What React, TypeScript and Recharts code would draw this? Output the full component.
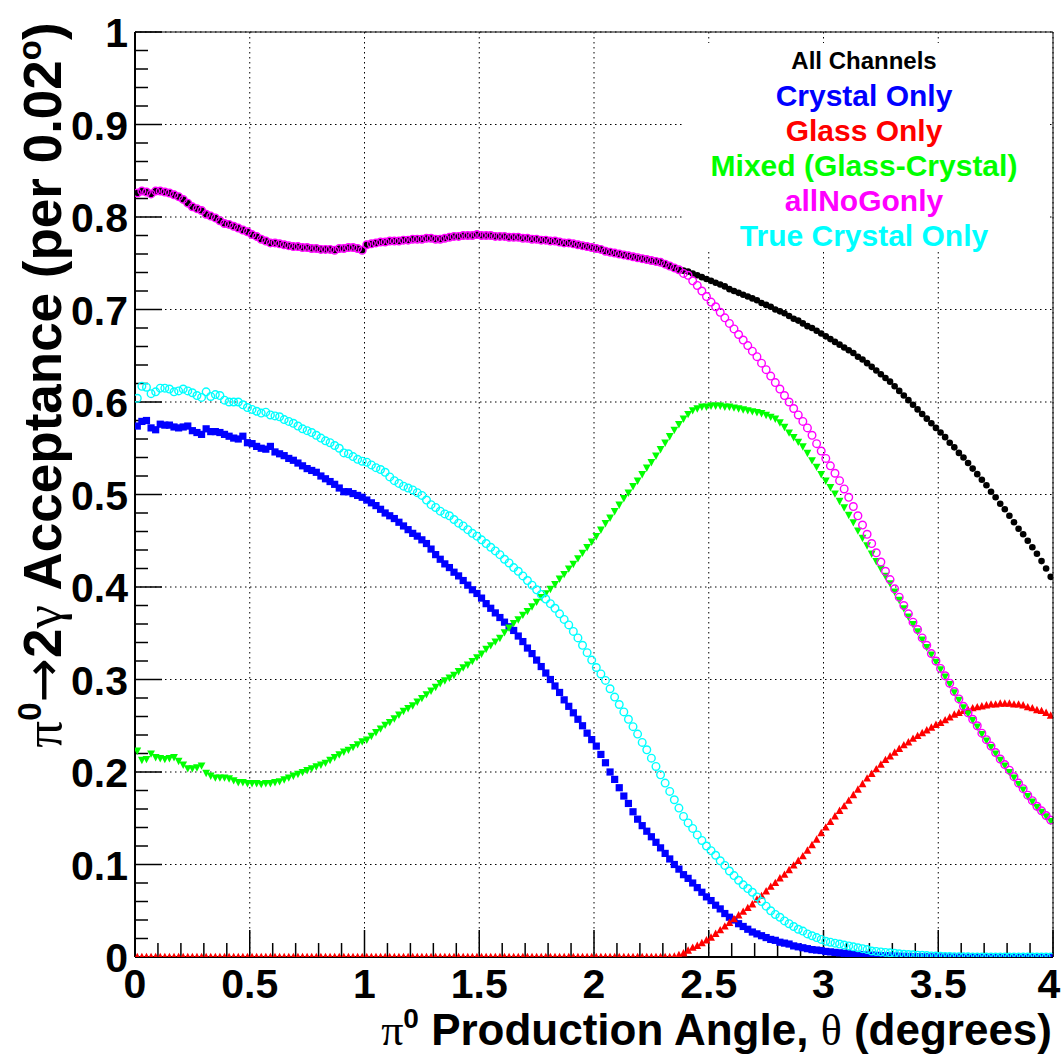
import React from 'react';
import { ScatterChart, Scatter, XAxis, YAxis, CartesianGrid, ReferenceLine } from 'recharts';

// Histogram bins: 200 bins of 0.02 degrees between 0 and 4 (bin centers)
const binCenters: number[] = Array.from({ length: 200 }, (_, i) => Math.round((0.01 + 0.02 * i) * 100) / 100);

const xTickLabels = [0, 0.5, 1, 1.5, 2, 2.5, 3, 3.5, 4];
const yTickLabels = [0, 0.1, 0.2, 0.3, 0.4, 0.5, 0.6, 0.7, 0.8, 0.9, 1];
const xMinorTicks: number[] = Array.from({ length: 41 }, (_, i) => Math.round(i * 0.1 * 10) / 10).filter((v) => !xTickLabels.includes(v));
const yMinorTicks: number[] = Array.from({ length: 51 }, (_, i) => Math.round(i * 0.02 * 100) / 100).filter((v) => !yTickLabels.includes(v));

const allChannels = [
  0.826, 0.828, 0.827, 0.825, 0.828, 0.828, 0.827, 0.826, 0.824, 0.822,
  0.819, 0.815, 0.811, 0.809, 0.807, 0.803, 0.801, 0.799, 0.796, 0.793,
  0.792, 0.790, 0.788, 0.786, 0.784, 0.781, 0.779, 0.776, 0.774, 0.772,
  0.772, 0.771, 0.770, 0.769, 0.768, 0.768, 0.767, 0.767, 0.766, 0.766,
  0.765, 0.765, 0.765, 0.764, 0.766, 0.766, 0.767, 0.767, 0.766, 0.764,
  0.770, 0.771, 0.772, 0.773, 0.773, 0.774, 0.774, 0.774, 0.775, 0.775,
  0.776, 0.776, 0.776, 0.777, 0.777, 0.776, 0.776, 0.777, 0.778, 0.779,
  0.779, 0.780, 0.780, 0.780, 0.781, 0.780, 0.780, 0.780, 0.779, 0.779,
  0.779, 0.778, 0.778, 0.778, 0.777, 0.777, 0.776, 0.776, 0.775, 0.775,
  0.774, 0.774, 0.773, 0.772, 0.772, 0.771, 0.770, 0.769, 0.768, 0.767,
  0.766, 0.765, 0.763, 0.762, 0.761, 0.760, 0.759, 0.758, 0.757, 0.756,
  0.755, 0.754, 0.753, 0.752, 0.751, 0.749, 0.747, 0.745, 0.743, 0.742,
  0.741, 0.739, 0.737, 0.735, 0.733, 0.731, 0.729, 0.727, 0.725, 0.722,
  0.720, 0.718, 0.716, 0.714, 0.712, 0.710, 0.707, 0.705, 0.703, 0.700,
  0.698, 0.696, 0.693, 0.690, 0.688, 0.685, 0.682, 0.680, 0.677, 0.674,
  0.671, 0.668, 0.665, 0.662, 0.659, 0.656, 0.653, 0.649, 0.646, 0.642,
  0.638, 0.634, 0.630, 0.626, 0.622, 0.617, 0.612, 0.607, 0.602, 0.597,
  0.592, 0.587, 0.582, 0.577, 0.572, 0.567, 0.562, 0.556, 0.551, 0.545,
  0.540, 0.534, 0.528, 0.522, 0.516, 0.510, 0.503, 0.497, 0.490, 0.484,
  0.477, 0.470, 0.463, 0.457, 0.450, 0.443, 0.436, 0.428, 0.420, 0.411,
];

const crystalOnly = [
  0.574, 0.579, 0.580, 0.572, 0.570, 0.576, 0.575, 0.575, 0.573, 0.572,
  0.573, 0.574, 0.569, 0.567, 0.565, 0.571, 0.568, 0.568, 0.567, 0.565,
  0.563, 0.561, 0.560, 0.563, 0.556, 0.555, 0.552, 0.550, 0.549, 0.552,
  0.546, 0.544, 0.542, 0.539, 0.537, 0.534, 0.531, 0.528, 0.526, 0.524,
  0.520, 0.517, 0.514, 0.511, 0.507, 0.503, 0.503, 0.501, 0.499, 0.497,
  0.494, 0.491, 0.488, 0.484, 0.480, 0.477, 0.474, 0.470, 0.466, 0.462,
  0.458, 0.455, 0.451, 0.447, 0.441, 0.435, 0.430, 0.425, 0.421, 0.416,
  0.412, 0.407, 0.402, 0.397, 0.393, 0.388, 0.382, 0.377, 0.372, 0.367,
  0.362, 0.357, 0.353, 0.347, 0.341, 0.334, 0.328, 0.321, 0.314, 0.307,
  0.300, 0.293, 0.286, 0.278, 0.271, 0.264, 0.257, 0.250, 0.242, 0.235,
  0.228, 0.219, 0.210, 0.200, 0.192, 0.183, 0.174, 0.166, 0.157, 0.149,
  0.142, 0.136, 0.130, 0.124, 0.118, 0.112, 0.106, 0.100, 0.095, 0.089,
  0.085, 0.080, 0.075, 0.070, 0.065, 0.061, 0.056, 0.052, 0.047, 0.043,
  0.040, 0.036, 0.033, 0.030, 0.027, 0.025, 0.023, 0.021, 0.019, 0.018,
  0.016, 0.015, 0.014, 0.012, 0.011, 0.010, 0.009, 0.008, 0.0075, 0.007,
  0.006, 0.0055, 0.005, 0.0045, 0.004, 0.0035, 0.003, 0.0028, 0.0025, 0.0022,
  0.002, 0.0018, 0.0015, 0.0013, 0.0012, 0.001, 0.0008, 0.0007, 0.0006, 0.0005,
  0.0004, 0.0003, 0.0003, 0.0002, 0.0002, 0.0001, 0.0001, 0.0001, 0, 0,
  0, 0, 0, 0, 0, 0, 0, 0, 0, 0,
  0, 0, 0, 0, 0, 0, 0, 0, 0, 0,
];

const glassOnly = [
  0, 0, 0, 0, 0, 0, 0, 0, 0, 0,
  0, 0, 0, 0, 0, 0, 0, 0, 0, 0,
  0, 0, 0, 0, 0, 0, 0, 0, 0, 0,
  0, 0, 0, 0, 0, 0, 0, 0, 0, 0,
  0, 0, 0, 0, 0, 0, 0, 0, 0, 0,
  0, 0, 0, 0, 0, 0, 0, 0, 0, 0,
  0, 0, 0, 0, 0, 0, 0, 0, 0, 0,
  0, 0, 0, 0, 0, 0, 0, 0, 0, 0,
  0, 0, 0, 0, 0, 0, 0, 0, 0, 0,
  0, 0, 0, 0, 0, 0, 0, 0, 0, 0,
  0, 0, 0, 0, 0, 0, 0, 0, 0, 0,
  0, 0, 0, 0, 0, 0, 0, 0.0005, 0.002, 0.004,
  0.007, 0.010, 0.012, 0.015, 0.018, 0.021, 0.025, 0.029, 0.033, 0.037,
  0.041, 0.045, 0.049, 0.053, 0.057, 0.062, 0.066, 0.071, 0.076, 0.080,
  0.085, 0.089, 0.094, 0.099, 0.104, 0.109, 0.115, 0.121, 0.127, 0.134,
  0.140, 0.146, 0.152, 0.158, 0.163, 0.169, 0.175, 0.181, 0.187, 0.193,
  0.198, 0.203, 0.208, 0.213, 0.217, 0.221, 0.225, 0.229, 0.232, 0.236,
  0.239, 0.242, 0.245, 0.248, 0.251, 0.253, 0.256, 0.259, 0.262, 0.264,
  0.266, 0.267, 0.269, 0.270, 0.271, 0.272, 0.273, 0.273, 0.274, 0.274,
  0.274, 0.273, 0.273, 0.272, 0.270, 0.269, 0.267, 0.266, 0.264, 0.261,
];

const mixedGlassCrystal = [
  0.223, 0.213, 0.214, 0.220, 0.216, 0.215, 0.214, 0.215, 0.216, 0.212,
  0.208, 0.204, 0.204, 0.205, 0.207, 0.199, 0.196, 0.194, 0.194, 0.194,
  0.193, 0.191, 0.189, 0.189, 0.188, 0.188, 0.188, 0.187, 0.188, 0.188,
  0.189, 0.190, 0.192, 0.194, 0.196, 0.198, 0.200, 0.202, 0.204, 0.206,
  0.208, 0.210, 0.213, 0.216, 0.219, 0.222, 0.224, 0.227, 0.230, 0.233,
  0.235, 0.239, 0.243, 0.247, 0.251, 0.254, 0.258, 0.262, 0.266, 0.269,
  0.272, 0.276, 0.280, 0.284, 0.288, 0.292, 0.296, 0.299, 0.302, 0.305,
  0.309, 0.313, 0.316, 0.320, 0.324, 0.328, 0.333, 0.337, 0.341, 0.345,
  0.351, 0.356, 0.361, 0.365, 0.370, 0.374, 0.379, 0.384, 0.389, 0.393,
  0.398, 0.403, 0.409, 0.414, 0.420, 0.425, 0.431, 0.437, 0.443, 0.449,
  0.455, 0.462, 0.469, 0.475, 0.482, 0.489, 0.496, 0.502, 0.509, 0.515,
  0.522, 0.529, 0.535, 0.542, 0.549, 0.556, 0.563, 0.570, 0.576, 0.582,
  0.587, 0.591, 0.593, 0.595, 0.595, 0.596, 0.596, 0.596, 0.595, 0.595,
  0.594, 0.593, 0.592, 0.591, 0.590, 0.589, 0.588, 0.586, 0.584, 0.582,
  0.578, 0.573, 0.567, 0.562, 0.557, 0.552, 0.545, 0.537, 0.530, 0.522,
  0.515, 0.508, 0.501, 0.493, 0.486, 0.478, 0.470, 0.461, 0.453, 0.445,
  0.436, 0.428, 0.420, 0.412, 0.404, 0.395, 0.386, 0.377, 0.368, 0.360,
  0.352, 0.343, 0.335, 0.327, 0.319, 0.311, 0.303, 0.295, 0.286, 0.278,
  0.270, 0.263, 0.256, 0.249, 0.241, 0.234, 0.227, 0.220, 0.213, 0.207,
  0.200, 0.194, 0.187, 0.181, 0.174, 0.168, 0.162, 0.157, 0.152, 0.147,
];

const allNoGonly = [
  0.826, 0.828, 0.827, 0.825, 0.828, 0.828, 0.827, 0.826, 0.824, 0.822,
  0.819, 0.815, 0.811, 0.809, 0.807, 0.803, 0.801, 0.799, 0.796, 0.793,
  0.792, 0.790, 0.788, 0.786, 0.784, 0.781, 0.779, 0.776, 0.774, 0.772,
  0.772, 0.771, 0.770, 0.769, 0.768, 0.768, 0.767, 0.767, 0.766, 0.766,
  0.765, 0.765, 0.765, 0.764, 0.766, 0.766, 0.767, 0.767, 0.766, 0.764,
  0.770, 0.771, 0.772, 0.773, 0.773, 0.774, 0.774, 0.774, 0.775, 0.775,
  0.776, 0.776, 0.776, 0.777, 0.777, 0.776, 0.776, 0.777, 0.778, 0.779,
  0.779, 0.780, 0.780, 0.780, 0.781, 0.780, 0.780, 0.780, 0.779, 0.779,
  0.779, 0.778, 0.778, 0.778, 0.777, 0.777, 0.776, 0.776, 0.775, 0.775,
  0.774, 0.774, 0.773, 0.772, 0.772, 0.771, 0.770, 0.769, 0.768, 0.767,
  0.766, 0.765, 0.763, 0.762, 0.761, 0.760, 0.759, 0.758, 0.757, 0.756,
  0.755, 0.754, 0.753, 0.752, 0.751, 0.749, 0.747, 0.745, 0.743, 0.739,
  0.737, 0.731, 0.726, 0.720, 0.714, 0.708, 0.703, 0.697, 0.691, 0.685,
  0.679, 0.673, 0.667, 0.661, 0.655, 0.649, 0.642, 0.635, 0.628, 0.621,
  0.614, 0.607, 0.600, 0.593, 0.586, 0.579, 0.572, 0.564, 0.555, 0.547,
  0.539, 0.531, 0.523, 0.515, 0.506, 0.497, 0.487, 0.477, 0.467, 0.457,
  0.447, 0.437, 0.427, 0.417, 0.408, 0.398, 0.389, 0.380, 0.371, 0.362,
  0.354, 0.345, 0.337, 0.328, 0.320, 0.312, 0.304, 0.296, 0.287, 0.279,
  0.271, 0.264, 0.257, 0.250, 0.242, 0.235, 0.228, 0.221, 0.214, 0.208,
  0.202, 0.195, 0.188, 0.182, 0.175, 0.169, 0.163, 0.158, 0.153, 0.148,
];

const trueCrystalOnly = [
  0.604, 0.617, 0.616, 0.609, 0.611, 0.615, 0.615, 0.614, 0.611, 0.612,
  0.614, 0.612, 0.610, 0.607, 0.605, 0.611, 0.606, 0.608, 0.607, 0.602,
  0.600, 0.600, 0.600, 0.597, 0.594, 0.592, 0.590, 0.588, 0.589, 0.586,
  0.585, 0.584, 0.581, 0.579, 0.577, 0.574, 0.571, 0.569, 0.567, 0.564,
  0.561, 0.558, 0.556, 0.553, 0.550, 0.545, 0.544, 0.541, 0.538, 0.536,
  0.535, 0.532, 0.529, 0.527, 0.524, 0.519, 0.515, 0.512, 0.509, 0.507,
  0.505, 0.502, 0.499, 0.494, 0.489, 0.486, 0.482, 0.479, 0.477, 0.473,
  0.469, 0.466, 0.462, 0.458, 0.455, 0.451, 0.447, 0.443, 0.439, 0.435,
  0.430, 0.426, 0.421, 0.417, 0.412, 0.407, 0.402, 0.397, 0.392, 0.387,
  0.382, 0.377, 0.371, 0.365, 0.359, 0.352, 0.345, 0.337, 0.329, 0.321,
  0.313, 0.306, 0.299, 0.290, 0.281, 0.273, 0.265, 0.257, 0.249, 0.241,
  0.232, 0.224, 0.215, 0.206, 0.197, 0.188, 0.179, 0.170, 0.161, 0.152,
  0.145, 0.139, 0.132, 0.126, 0.120, 0.115, 0.110, 0.104, 0.099, 0.093,
  0.088, 0.083, 0.078, 0.074, 0.070, 0.065, 0.060, 0.055, 0.050, 0.046,
  0.043, 0.039, 0.036, 0.033, 0.030, 0.028, 0.025, 0.023, 0.021, 0.019,
  0.017, 0.016, 0.015, 0.014, 0.013, 0.012, 0.011, 0.010, 0.009, 0.008,
  0.0065, 0.006, 0.0055, 0.005, 0.0045, 0.004, 0.0035, 0.003, 0.0027, 0.0024,
  0.002, 0.0018, 0.0015, 0.0012, 0.001, 0.0008, 0.0006, 0.0005, 0.0004, 0.0003,
  0.0002, 0.0002, 0.0001, 0.0001, 0, 0, 0, 0, 0, 0,
  0, 0, 0, 0, 0, 0, 0, 0, 0, 0,
];

const toPoints = (vals: number[]) => vals.map((v, i) => ({ x: binCenters[i], y: v }));

const SANS = "'Liberation Sans', Arial, Helvetica, sans-serif";
const SERIF = "'Liberation Serif', 'Times New Roman', serif";
const ARROW = "'DejaVu Sans', 'Liberation Sans', sans-serif";

const dotShape = (color: string, r: number) => (p: any) =>
  p.cx == null ? <g /> : <circle cx={p.cx} cy={p.cy} r={r} fill={color} />;
const ringShape = (color: string, r: number) => (p: any) =>
  p.cx == null ? <g /> : <circle cx={p.cx} cy={p.cy} r={r} fill="none" stroke={color} strokeWidth={1.4} />;
const squareShape = (color: string, s: number) => (p: any) =>
  p.cx == null ? <g /> : <rect x={p.cx - s / 2} y={p.cy - s / 2} width={s} height={s} fill={color} />;
const triUpShape = (color: string, w: number) => (p: any) =>
  p.cx == null ? <g /> : (
    <polygon points={`${p.cx},${p.cy - w * 0.55} ${p.cx - w / 2},${p.cy + w * 0.4} ${p.cx + w / 2},${p.cy + w * 0.4}`} fill={color} />
  );
const triDownShape = (color: string, w: number) => (p: any) =>
  p.cx == null ? <g /> : (
    <polygon points={`${p.cx},${p.cy + w * 0.55} ${p.cx - w / 2},${p.cy - w * 0.4} ${p.cx + w / 2},${p.cy - w * 0.4}`} fill={color} />
  );

const fmt = (v: number) => String(Math.round(v * 10) / 10);

const XTick = (p: any) => (
  <text x={Math.min(p.x, 1049)} y={p.y + 41} textAnchor="middle" fontSize={41} fontWeight="bold" fontFamily={SANS} fill="#000">
    {fmt(p.payload.value)}
  </text>
);
const YTick = (p: any) => (
  <text x={p.x - 7} y={p.y + 15} textAnchor="end" fontSize={41} fontWeight="bold" fontFamily={SANS} fill="#000">
    {fmt(p.payload.value)}
  </text>
);

const legendItems = [
  { label: 'All Channels', color: '#000000', size: 24 },
  { label: 'Crystal Only', color: '#0000ff', size: 30 },
  { label: 'Glass Only', color: '#ff0000', size: 30 },
  { label: 'Mixed (Glass-Crystal)', color: '#00ff00', size: 30 },
  { label: 'allNoGonly', color: '#ff00ff', size: 30 },
  { label: 'True Crystal Only', color: '#00ffff', size: 30 },
];
const legendBaselines = [69, 106, 141, 176, 211, 246];

export default function App() {
  const X_TICK_MAJOR = 0.0292;
  const X_TICK_MINOR = 0.0151;
  const Y_TICK_MAJOR = 0.1176;
  const Y_TICK_MINOR = 0.0566;
  return (
    <div style={{ position: 'absolute', left: 0, top: 0, width: 1062, height: 1056, background: '#fff' }}>
      <ScatterChart width={1062} height={1056} margin={{ top: 32, right: 9, bottom: 0, left: 0 }}>
        <CartesianGrid stroke="#000" strokeDasharray="1.5 3.5" strokeWidth={1} />
        <XAxis
          type="number"
          dataKey="x"
          domain={[0, 4]}
          ticks={xTickLabels}
          interval={0}
          height={99}
          tickLine={false}
          tickSize={0}
          tickMargin={0}
          axisLine={{ stroke: '#000', strokeWidth: 2 }}
          tick={XTick}
          allowDataOverflow
        />
        <YAxis
          type="number"
          dataKey="y"
          domain={[0, 1]}
          ticks={yTickLabels}
          interval={0}
          width={135}
          tickLine={false}
          tickSize={0}
          tickMargin={0}
          axisLine={{ stroke: '#000', strokeWidth: 2 }}
          tick={YTick}
          allowDataOverflow
        />
        {xTickLabels.map((v) => (
          <ReferenceLine key={'xM' + v} segment={[{ x: v, y: 0 }, { x: v, y: X_TICK_MAJOR }]} stroke="#000" strokeWidth={1.5} />
        ))}
        {xMinorTicks.map((v) => (
          <ReferenceLine key={'xm' + v} segment={[{ x: v, y: 0 }, { x: v, y: X_TICK_MINOR }]} stroke="#000" strokeWidth={1.5} />
        ))}
        {yTickLabels.map((v) => (
          <ReferenceLine key={'yM' + v} segment={[{ x: 0, y: v }, { x: Y_TICK_MAJOR, y: v }]} stroke="#000" strokeWidth={1.5} />
        ))}
        {yMinorTicks.map((v) => (
          <ReferenceLine key={'ym' + v} segment={[{ x: 0, y: v }, { x: Y_TICK_MINOR, y: v }]} stroke="#000" strokeWidth={1.5} />
        ))}
        <Scatter name="All Channels" data={toPoints(allChannels)} shape={dotShape('#000000', 3.3)} isAnimationActive={false} />
        <Scatter name="Crystal Only" data={toPoints(crystalOnly)} shape={squareShape('#0000ff', 7.2)} isAnimationActive={false} />
        <Scatter name="Glass Only" data={toPoints(glassOnly)} shape={triUpShape('#ff0000', 7.8)} isAnimationActive={false} />
        <Scatter name="Mixed (Glass-Crystal)" data={toPoints(mixedGlassCrystal)} shape={triDownShape('#00ff00', 7.8)} isAnimationActive={false} />
        <Scatter name="allNoGonly" data={toPoints(allNoGonly)} shape={ringShape('#ff00ff', 3.8)} isAnimationActive={false} />
        <Scatter name="True Crystal Only" data={toPoints(trueCrystalOnly)} shape={ringShape('#00ffff', 3.8)} isAnimationActive={false} />
      </ScatterChart>
      <svg width={1062} height={1056} style={{ position: 'absolute', left: 0, top: 0, pointerEvents: 'none' }}>
        <line x1={135} y1={32} x2={1053} y2={32} stroke="#000" strokeWidth={1} />
        <line x1={1053} y1={32} x2={1053} y2={957} stroke="#000" strokeWidth={1} />
        <rect x={685} y={43} width={364} height={207} fill="#fff" />
        {legendItems.map((it, i) => (
          <text key={it.label} x={864} y={legendBaselines[i]} textAnchor="middle" fontSize={it.size} fontWeight="bold" fontFamily={SANS} fill={it.color}>
            {it.label}
          </text>
        ))}
        <text x={1052} y={1045} textAnchor="end" fontSize={44} fontWeight="bold" fontFamily={SANS} fill="#000">
          <tspan fontFamily={SERIF} fontWeight="normal">π</tspan>
          <tspan dy={-17} fontSize={28}>0</tspan>
          <tspan dy={17}> Production Angle, </tspan>
          <tspan fontFamily={SERIF} fontWeight="normal">θ</tspan>
          <tspan> (degrees)</tspan>
        </text>
        <text transform="translate(61,385) rotate(-90)" textAnchor="middle" fontSize={53} fontWeight="bold" fontFamily={SANS} fill="#000">
          <tspan fontFamily={SERIF} fontWeight="normal">π</tspan>
          <tspan dy={-20} fontSize={33}>0</tspan>
          <tspan dy={20} fontFamily={ARROW} fontWeight="normal">→</tspan>
          <tspan>2</tspan>
          <tspan fontFamily={SERIF} fontWeight="normal">γ</tspan>
          <tspan> Acceptance (per 0.02</tspan>
          <tspan dy={-20} fontSize={33}>o</tspan>
          <tspan dy={20}>)</tspan>
        </text>
      </svg>
    </div>
  );
}
